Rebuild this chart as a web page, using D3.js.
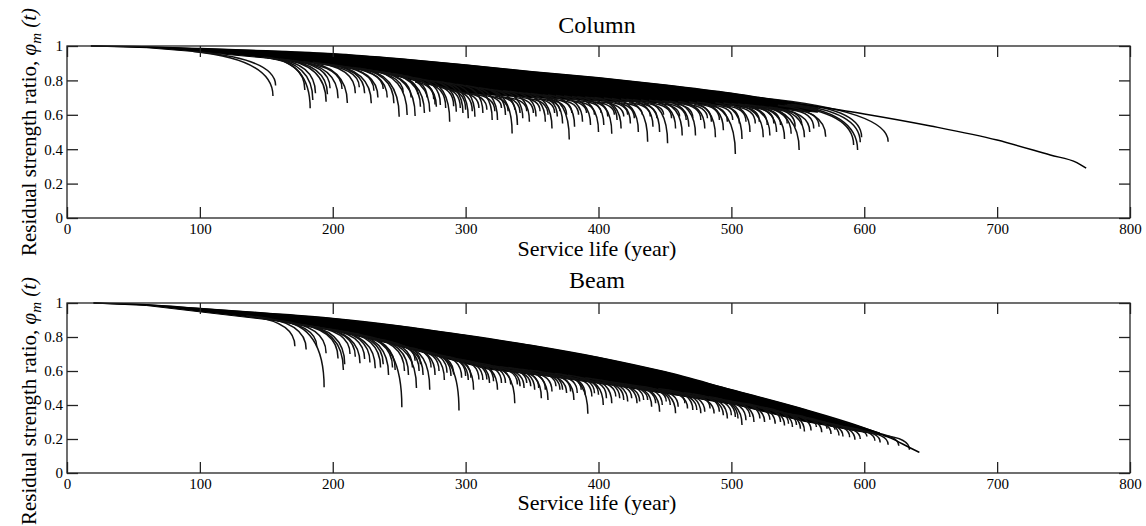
<!DOCTYPE html>
<html>
<head>
<meta charset="utf-8">
<script src="https://cdn.jsdelivr.net/npm/d3@7"></script>
<style>
body { margin: 0; background: #fff; }
svg text { font-family: "Liberation Serif", "Times New Roman", serif; fill: #000; }
</style>
</head>
<body>
<svg id="chart" width="1146" height="526"></svg>
<script>
// ticks
var xTicks = [0, 100, 200, 300, 400, 500, 600, 700, 800];
var yTicks = [0, 0.2, 0.4, 0.6, 0.8, 1];

// Column: longest trajectory [year, ratio]
var colLongest = [[18,1],[50,0.997],[100,0.985],[150,0.972],[200,0.955],[250,0.926],[300,0.89],[350,0.85],[400,0.815],[450,0.773],[500,0.725],[550,0.665],[600,0.605],[650,0.535],[700,0.453],[740,0.366],[760,0.322],[767,0.29]];
// Column: dense band (top and bottom edges)
var colBandTop = [[18,1],[50,0.997],[100,0.985],[150,0.972],[200,0.955],[250,0.926],[300,0.89],[350,0.85],[400,0.815],[450,0.773],[500,0.725],[550,0.665],[565,0.645]];
var colBandBottom = [[18,1],[60,0.99],[100,0.965],[150,0.93],[200,0.89],[240,0.84],[280,0.765],[300,0.725],[350,0.70],[400,0.68],[460,0.668],[500,0.652],[540,0.632],[565,0.615]];
// Column: failure tails [startYear, startRatio, endYear, endRatio]
var colTails = [
  [95,0.968,155,0.71],[100,0.965,157,0.77],[150,0.935,183,0.638],[148,0.935,179,0.744],
  [152,0.93,185,0.686],[155,0.928,187,0.725],[160,0.925,195,0.676],[162,0.922,196,0.72],
  [165,0.92,198,0.754],[170,0.915,204,0.696],[178,0.91,211,0.668],[185,0.905,217,0.725],
  [192,0.898,224,0.725],[196,0.894,229,0.667],[202,0.888,234,0.70],[210,0.88,241,0.70],
  [215,0.875,246,0.667],[220,0.87,250,0.589],[226,0.862,256,0.599],[232,0.855,262,0.593],
  [238,0.848,266,0.647],[240,0.845,269,0.61],[245,0.84,273,0.618],[250,0.832,278,0.647],
  [175,0.905,207,0.75],[188,0.898,220,0.76],[200,0.888,231,0.74],[207,0.88,238,0.75],
  [218,0.87,253,0.73],[228,0.858,259,0.70],[235,0.85,264,0.72],[246,0.835,271,0.70],
  [252,0.825,276,0.69],
  [261,0.815,281,0.657],[268,0.805,288,0.56],[273,0.80,293,0.618],[278,0.795,298,0.61],
  [282,0.79,302,0.58],[287,0.785,307,0.589],[293,0.778,313,0.61],[300,0.77,320,0.57],
  [304,0.765,324,0.57],[310,0.757,330,0.599],[315,0.752,335,0.492],[319,0.747,339,0.54],
  [323,0.743,343,0.58],[328,0.74,348,0.56],[333,0.737,353,0.59],[340,0.73,360,0.56],
  [345,0.727,365,0.52],[349,0.724,369,0.59],[353,0.72,373,0.55],[358,0.717,378,0.457],
  [362,0.715,382,0.53],[368,0.712,388,0.56],[374,0.71,394,0.54],[380,0.707,400,0.50],
  [384,0.705,404,0.54],[390,0.703,410,0.49],[394,0.70,414,0.57],[397,0.70,417,0.52],
  [404,0.697,424,0.55],[410,0.695,430,0.50],[417,0.692,437,0.444],[421,0.69,441,0.53],
  [426,0.688,446,0.50],[432,0.686,452,0.434],[438,0.684,458,0.52],[443,0.683,463,0.48],
  [448,0.681,468,0.53],[453,0.68,473,0.48],[460,0.678,480,0.52],[468,0.676,488,0.47],
  [474,0.674,494,0.51],[478,0.672,503,0.372],[488,0.67,508,0.46],[494,0.668,514,0.50],
  [500,0.665,524,0.47],[505,0.663,529,0.48],[510,0.66,534,0.50],[515,0.655,540,0.46],
  [520,0.65,545,0.49],[522,0.65,551,0.395],[528,0.645,555,0.47],[532,0.64,559,0.50],
  [535,0.655,571,0.473],[540,0.655,592,0.424],[542,0.66,595,0.395],[545,0.662,597,0.44],
  [548,0.665,598,0.47],[520,0.70,618,0.444],
  [262,0.79,277,0.66],[270,0.78,285,0.64],[276,0.77,291,0.65],[281,0.76,296,0.64],
  [286,0.75,300,0.63],[291,0.74,305,0.62],[296,0.73,310,0.64],[300,0.725,316,0.63],
  [306,0.72,322,0.62],[312,0.715,327,0.64],[317,0.71,332,0.62],[322,0.71,337,0.63],
  [327,0.705,341,0.61],[331,0.70,346,0.62],[337,0.70,351,0.61],[342,0.70,356,0.62],
  [347,0.695,362,0.60],[352,0.695,367,0.61],[357,0.69,371,0.62],[361,0.69,376,0.60],
  [366,0.69,380,0.61],[371,0.685,385,0.60],[376,0.685,391,0.61],[381,0.68,397,0.60],
  [387,0.68,402,0.61],[392,0.68,407,0.59],[397,0.675,412,0.60],[402,0.675,419,0.59],
  [407,0.675,422,0.60],[412,0.672,427,0.58],[417,0.67,433,0.60],[423,0.67,439,0.59],
  [428,0.67,444,0.58],[434,0.668,449,0.60],[439,0.668,455,0.58],[445,0.667,461,0.59],
  [450,0.666,466,0.57],[456,0.665,471,0.58],[461,0.665,477,0.57],[466,0.662,482,0.58],
  [472,0.66,485,0.56],[477,0.658,491,0.57],[482,0.656,497,0.56],[487,0.654,501,0.57],
  [492,0.652,506,0.55],[497,0.65,511,0.56],[502,0.648,518,0.55],[508,0.645,521,0.56],
  [513,0.642,527,0.54],[518,0.64,532,0.55],[523,0.637,537,0.54],[528,0.635,542,0.55],
  [533,0.632,548,0.53],[538,0.63,553,0.54],[545,0.628,562,0.52],[550,0.625,566,0.53]
];

// Beam: outer trajectory
var beamLongest = [[20,1],[60,0.99],[100,0.968],[150,0.94],[200,0.909],[250,0.865],[300,0.81],[350,0.75],[400,0.68],[450,0.595],[500,0.49],[550,0.385],[600,0.265],[620,0.205],[634,0.15],[641.5,0.121]];
var beamBandTop = [[20,1],[60,0.99],[100,0.968],[150,0.94],[200,0.909],[250,0.865],[300,0.81],[350,0.75],[400,0.68],[450,0.595],[500,0.49],[550,0.385],[600,0.265],[612,0.235]];
var beamBandBottom = [[20,1],[60,0.985],[100,0.948],[153,0.90],[200,0.84],[241,0.765],[270,0.705],[316,0.612],[364,0.567],[416,0.51],[461,0.455],[504,0.40],[554,0.305],[592,0.25],[612,0.225]];
var beamTails = [
  [135,0.925,171.5,0.745],[142,0.92,180,0.727],[152,0.905,188,0.743],[160,0.895,193.5,0.504],
  [160,0.895,195,0.704],[170,0.88,204,0.674],[175,0.875,208,0.606],[177,0.872,209,0.64],
  [185,0.862,217,0.684],[188,0.858,220.5,0.645],[196,0.848,228,0.65],[200,0.84,232,0.616],
  [205,0.835,236,0.62],[212,0.825,242,0.577],[217,0.815,247,0.606],[224,0.80,252,0.387],
  [228,0.795,257,0.577],[235,0.78,263,0.50],[240,0.77,268,0.577],[253,0.745,273,0.489],
  [182,0.865,213,0.70],[192,0.852,224,0.67],[203,0.838,238,0.64],[210,0.828,245,0.62],
  [220,0.81,254,0.60],[232,0.79,260,0.62],[238,0.778,265,0.60],
  [257,0.738,277,0.577],[264,0.725,284,0.547],[269,0.715,289,0.57],[275,0.705,295,0.367],
  [282,0.69,302,0.547],[286,0.685,306,0.489],[293,0.672,313,0.547],[298,0.665,318,0.53],
  [304,0.655,324,0.489],[310,0.645,330,0.53],[317,0.635,337,0.41],[321,0.63,341,0.51],
  [326,0.625,346,0.53],[332,0.62,352,0.489],[337,0.615,357,0.44],[342,0.61,362,0.43],
  [348,0.605,368,0.51],[353,0.60,373,0.489],[361,0.59,381.5,0.43],[367,0.585,387,0.489],
  [372,0.58,392,0.348],[377,0.575,397,0.469],[384,0.565,403.6,0.40],[390,0.56,410,0.41],
  [396,0.553,416,0.44],[402,0.546,422,0.42],[409,0.537,429,0.41],[414,0.53,434,0.43],
  [420,0.523,440,0.39],[426,0.516,446,0.36],[431,0.51,451,0.42],[438,0.50,458,0.352],
  [445,0.495,465,0.41],[451,0.49,471,0.371],[457,0.48,477,0.352],[464,0.472,484,0.38],
  [471,0.465,491,0.36],[477,0.455,497,0.32],[483,0.448,503,0.33],[488,0.44,508,0.283],
  [494,0.43,514,0.33],[501,0.42,521.5,0.32],[509,0.41,529,0.313],[517,0.395,537,0.30],
  [523,0.385,543,0.29],[529,0.37,549,0.283],[535,0.36,555,0.244],[544,0.345,564,0.27],
  [552,0.33,572,0.26],[558,0.315,578,0.254],[564,0.305,584,0.215],[573,0.29,593,0.195],
  [582,0.275,602,0.215],[598,0.245,618,0.166],[614,0.22,634,0.137],
  [245,0.76,262,0.66],[250,0.75,266,0.64],[258,0.735,274,0.62],[262,0.725,280,0.60],
  [268,0.715,286,0.59],[273,0.705,291,0.58],[279,0.695,297,0.56],[284,0.685,300,0.57],
  [289,0.675,304,0.56],[295,0.665,310,0.55],[300,0.655,316,0.55],[306,0.645,321,0.54],
  [312,0.635,327,0.53],[318,0.625,334,0.52],[323,0.62,339,0.52],[329,0.61,344,0.50],
  [334,0.605,349,0.51],[339,0.60,355,0.50],[345,0.595,360,0.49],[350,0.59,365,0.48],
  [356,0.585,371,0.49],[359,0.58,376,0.47],[364,0.575,379,0.48],[370,0.57,384,0.47],
  [375,0.565,390,0.46],[380,0.56,395,0.45],[386,0.555,400,0.46],[392,0.545,406,0.44],
  [397,0.54,413,0.45],[403,0.535,419,0.43],[408,0.53,425,0.44],[414,0.52,431,0.42],
  [420,0.515,437,0.43],[425,0.51,443,0.41],[431,0.505,448,0.40],[437,0.495,454,0.40],
  [443,0.49,460,0.39],[448,0.485,467,0.38],[454,0.475,474,0.37],[460,0.47,480,0.36],
  [466,0.46,487,0.35],[473,0.455,494,0.34],[480,0.445,500,0.34],[486,0.44,505,0.32],
  [492,0.43,511,0.31],[499,0.42,517,0.30],[505,0.41,525,0.30],[512,0.40,533,0.29],
  [520,0.385,540,0.28],[526,0.375,546,0.27],[532,0.365,552,0.26],[540,0.35,560,0.25],
  [548,0.335,568,0.24],[555,0.32,575,0.23],[562,0.31,581,0.22],[570,0.295,589,0.21],
  [578,0.28,597,0.20],[588,0.265,608,0.19],[594,0.255,612,0.18],[604,0.24,626,0.16]
];

var svg = d3.select("#chart");
var left = 67, right = 1130;

var x = d3.scaleLinear().domain([0, 800]).range([left, right]);

function drawPanel(p) {
    var y = d3.scaleLinear().domain([0, 1]).range([p.bottom, p.top]);
    var g = svg.append("g");

    var line = d3.line()
        .x(d => x(d[0]))
        .y(d => y(d[1]));

    // solid band
    var poly = p.bandTop.concat(p.bandBottom.slice().reverse());
    g.append("path")
        .attr("d", line(poly) + "Z")
        .attr("fill", "#000")
        .attr("stroke", "#000")
        .attr("stroke-width", 1);

    // failure tails
    p.tails.forEach(function(t) {
        var x0 = x(t[0]), y0 = y(t[1]), x1 = x(t[2]), y1 = y(t[3]);
        var path = d3.path();
        path.moveTo(x0, y0);
        path.quadraticCurveTo(x1, Math.min(y0 + 0.1 * (x1 - x0), y1), x1, y1);
        g.append("path")
            .attr("d", path.toString())
            .attr("fill", "none")
            .attr("stroke", "#111")
            .attr("stroke-width", 1.5);
    });

    // outer trajectory
    g.append("path")
        .datum(p.longest)
        .attr("d", line.curve(d3.curveMonotoneX))
        .attr("fill", "none")
        .attr("stroke", "#000")
        .attr("stroke-width", 1.5);

    // axes, ticks inward
    g.append("g")
        .attr("transform", `translate(0, ${p.bottom})`)
        .call(d3.axisBottom(x).tickValues(xTicks).tickSizeInner(-11).tickSizeOuter(0).tickPadding(5).tickFormat(d3.format("d")));
    g.append("g")
        .attr("transform", `translate(0, ${p.top})`)
        .call(d3.axisTop(x).tickValues(xTicks).tickSizeInner(-11).tickSizeOuter(0).tickFormat(""));
    g.append("g")
        .attr("transform", `translate(${left}, 0)`)
        .call(d3.axisLeft(y).tickValues(yTicks).tickSizeInner(-11).tickSizeOuter(0).tickPadding(4).tickFormat(d => String(d)));
    g.append("g")
        .attr("transform", `translate(${right}, 0)`)
        .call(d3.axisRight(y).tickValues(yTicks).tickSizeInner(-11).tickSizeOuter(0).tickFormat(""));

    g.selectAll(".domain").remove();
    g.selectAll(".tick line").attr("stroke", "#222").attr("stroke-width", 1.3);
    g.selectAll(".tick text").attr("font-size", 15).attr("font-family", "Liberation Serif");

    g.append("rect")
        .attr("x", left).attr("y", p.top)
        .attr("width", right - left).attr("height", p.bottom - p.top)
        .attr("fill", "none").attr("stroke", "#222").attr("stroke-width", 1.3);

    // title
    g.append("text")
        .attr("x", 597).attr("y", p.titleY)
        .attr("text-anchor", "middle")
        .attr("font-size", 24)
        .text(p.title);

    // x label
    g.append("text")
        .attr("x", 597).attr("y", p.xLabelY)
        .attr("text-anchor", "middle")
        .attr("font-size", 22)
        .text("Service life (year)");

    // y label
    var yl = g.append("text")
        .attr("transform", `translate(36, ${p.yLabelC}) rotate(-90)`)
        .attr("text-anchor", "middle")
        .attr("font-size", 21);
    yl.append("tspan").text("Residual strength ratio, ");
    yl.append("tspan").attr("font-style", "italic").text("\u03c6");
    yl.append("tspan").attr("font-style", "italic").attr("font-size", 15).attr("dy", 5).text("m");
    yl.append("tspan").attr("font-style", "italic").attr("dy", -5).text(" (t)");
}

drawPanel({
    title: "Column", top: 46, bottom: 218, titleY: 33, xLabelY: 256, yLabelC: 132,
    longest: colLongest, bandTop: colBandTop, bandBottom: colBandBottom, tails: colTails
});
drawPanel({
    title: "Beam", top: 303, bottom: 473, titleY: 288, xLabelY: 510, yLabelC: 401,
    longest: beamLongest, bandTop: beamBandTop, bandBottom: beamBandBottom, tails: beamTails
});
</script>
</body>
</html>
